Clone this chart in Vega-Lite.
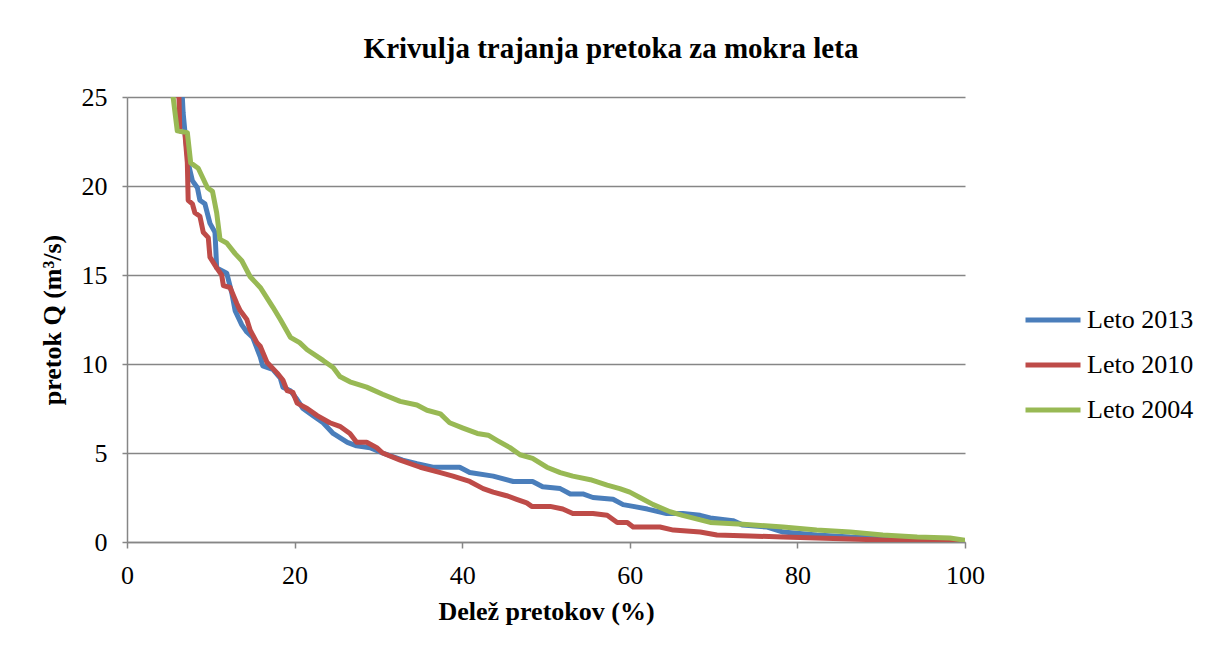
{
  "$schema": "https://vega.github.io/schema/vega-lite/v6.json",
  "autosize": {"type": "none"},
  "padding": {"left": 127, "top": 97, "right": 242, "bottom": 111},
  "width": 838,
  "height": 445,
  "background": "white",
  "config": {
    "view": {"stroke": null},
    "font": "Liberation Serif"
  },
  "title": {
    "text": "Krivulja trajanja pretoka za mokra leta",
    "font": "Liberation Serif",
    "fontSize": 29,
    "fontWeight": "bold",
    "color": "black",
    "anchor": "middle",
    "frame": "group",
    "dx": 65,
    "baseline": "bottom",
    "offset": -9
  },
  "datasets": {
    "curves": [
      {"series": "Leto 2013", "x": 6.6, "q": 25},
      {"series": "Leto 2013", "x": 6.7, "q": 24.1},
      {"series": "Leto 2013", "x": 6.9, "q": 23.1},
      {"series": "Leto 2013", "x": 7.3, "q": 21.3},
      {"series": "Leto 2013", "x": 7.8, "q": 20.3},
      {"series": "Leto 2013", "x": 8.4, "q": 19.9},
      {"series": "Leto 2013", "x": 8.7, "q": 19.2},
      {"series": "Leto 2013", "x": 9.3, "q": 19.0},
      {"series": "Leto 2013", "x": 9.9, "q": 17.9},
      {"series": "Leto 2013", "x": 10.5, "q": 17.4},
      {"series": "Leto 2013", "x": 10.7, "q": 15.4},
      {"series": "Leto 2013", "x": 11.5, "q": 15.2},
      {"series": "Leto 2013", "x": 11.9, "q": 15.1},
      {"series": "Leto 2013", "x": 12.5, "q": 14.0},
      {"series": "Leto 2013", "x": 12.9, "q": 13.0},
      {"series": "Leto 2013", "x": 13.7, "q": 12.2},
      {"series": "Leto 2013", "x": 14.3, "q": 11.8},
      {"series": "Leto 2013", "x": 15.0, "q": 11.5},
      {"series": "Leto 2013", "x": 15.9, "q": 10.4},
      {"series": "Leto 2013", "x": 16.2, "q": 9.9},
      {"series": "Leto 2013", "x": 17.4, "q": 9.7},
      {"series": "Leto 2013", "x": 18.3, "q": 9.2},
      {"series": "Leto 2013", "x": 18.6, "q": 8.7},
      {"series": "Leto 2013", "x": 19.5, "q": 8.5},
      {"series": "Leto 2013", "x": 20.3, "q": 8.0},
      {"series": "Leto 2013", "x": 21.0, "q": 7.5},
      {"series": "Leto 2013", "x": 22.2, "q": 7.1},
      {"series": "Leto 2013", "x": 23.4, "q": 6.7},
      {"series": "Leto 2013", "x": 24.6, "q": 6.1},
      {"series": "Leto 2013", "x": 26.3, "q": 5.6},
      {"series": "Leto 2013", "x": 27.4, "q": 5.4},
      {"series": "Leto 2013", "x": 29.0, "q": 5.3},
      {"series": "Leto 2013", "x": 30.5, "q": 5.0},
      {"series": "Leto 2013", "x": 32.9, "q": 4.6},
      {"series": "Leto 2013", "x": 34.6, "q": 4.4},
      {"series": "Leto 2013", "x": 36.5, "q": 4.2},
      {"series": "Leto 2013", "x": 39.7, "q": 4.2},
      {"series": "Leto 2013", "x": 40.9, "q": 3.9},
      {"series": "Leto 2013", "x": 43.7, "q": 3.7},
      {"series": "Leto 2013", "x": 46.1, "q": 3.4},
      {"series": "Leto 2013", "x": 48.4, "q": 3.4},
      {"series": "Leto 2013", "x": 49.6, "q": 3.1},
      {"series": "Leto 2013", "x": 51.7, "q": 3.0},
      {"series": "Leto 2013", "x": 52.9, "q": 2.7},
      {"series": "Leto 2013", "x": 54.4, "q": 2.7},
      {"series": "Leto 2013", "x": 55.6, "q": 2.5},
      {"series": "Leto 2013", "x": 58.0, "q": 2.4},
      {"series": "Leto 2013", "x": 59.2, "q": 2.1},
      {"series": "Leto 2013", "x": 60.4, "q": 2.0},
      {"series": "Leto 2013", "x": 62.1, "q": 1.85},
      {"series": "Leto 2013", "x": 64.4, "q": 1.6},
      {"series": "Leto 2013", "x": 66.3, "q": 1.6},
      {"series": "Leto 2013", "x": 68.4, "q": 1.5},
      {"series": "Leto 2013", "x": 69.6, "q": 1.35},
      {"series": "Leto 2013", "x": 72.3, "q": 1.2},
      {"series": "Leto 2013", "x": 73.5, "q": 0.95},
      {"series": "Leto 2013", "x": 76.4, "q": 0.84},
      {"series": "Leto 2013", "x": 78.3, "q": 0.56},
      {"series": "Leto 2013", "x": 82.3, "q": 0.39},
      {"series": "Leto 2013", "x": 86.3, "q": 0.28},
      {"series": "Leto 2013", "x": 90.2, "q": 0.22},
      {"series": "Leto 2013", "x": 94.3, "q": 0.17},
      {"series": "Leto 2013", "x": 100, "q": 0.05},

      {"series": "Leto 2010", "x": 6.2, "q": 25},
      {"series": "Leto 2010", "x": 6.3, "q": 23.1},
      {"series": "Leto 2010", "x": 6.9, "q": 23.0},
      {"series": "Leto 2010", "x": 7.2, "q": 21.3},
      {"series": "Leto 2010", "x": 7.3, "q": 19.2},
      {"series": "Leto 2010", "x": 7.8, "q": 19.0},
      {"series": "Leto 2010", "x": 8.1, "q": 18.5},
      {"series": "Leto 2010", "x": 8.7, "q": 18.3},
      {"series": "Leto 2010", "x": 9.1, "q": 17.4},
      {"series": "Leto 2010", "x": 9.7, "q": 17.1},
      {"series": "Leto 2010", "x": 9.9, "q": 16.0},
      {"series": "Leto 2010", "x": 10.7, "q": 15.4},
      {"series": "Leto 2010", "x": 11.3, "q": 15.0},
      {"series": "Leto 2010", "x": 11.5, "q": 14.4},
      {"series": "Leto 2010", "x": 12.3, "q": 14.3},
      {"series": "Leto 2010", "x": 13.1, "q": 13.4},
      {"series": "Leto 2010", "x": 13.5, "q": 13.0},
      {"series": "Leto 2010", "x": 14.3, "q": 12.5},
      {"series": "Leto 2010", "x": 14.7, "q": 11.9},
      {"series": "Leto 2010", "x": 15.5, "q": 11.2},
      {"series": "Leto 2010", "x": 15.9, "q": 11.0},
      {"series": "Leto 2010", "x": 16.7, "q": 10.1},
      {"series": "Leto 2010", "x": 17.9, "q": 9.5},
      {"series": "Leto 2010", "x": 18.6, "q": 9.1},
      {"series": "Leto 2010", "x": 19.1, "q": 8.5},
      {"series": "Leto 2010", "x": 19.8, "q": 8.4},
      {"series": "Leto 2010", "x": 20.3, "q": 7.8},
      {"series": "Leto 2010", "x": 21.5, "q": 7.5},
      {"series": "Leto 2010", "x": 22.7, "q": 7.1},
      {"series": "Leto 2010", "x": 24.2, "q": 6.7},
      {"series": "Leto 2010", "x": 25.4, "q": 6.5},
      {"series": "Leto 2010", "x": 26.6, "q": 6.1},
      {"series": "Leto 2010", "x": 27.4, "q": 5.6},
      {"series": "Leto 2010", "x": 28.6, "q": 5.6},
      {"series": "Leto 2010", "x": 29.8, "q": 5.3},
      {"series": "Leto 2010", "x": 30.5, "q": 5.0},
      {"series": "Leto 2010", "x": 32.6, "q": 4.6},
      {"series": "Leto 2010", "x": 35.0, "q": 4.2},
      {"series": "Leto 2010", "x": 37.4, "q": 3.9},
      {"series": "Leto 2010", "x": 38.9, "q": 3.7},
      {"series": "Leto 2010", "x": 40.9, "q": 3.4},
      {"series": "Leto 2010", "x": 42.5, "q": 3.0},
      {"series": "Leto 2010", "x": 43.7, "q": 2.8},
      {"series": "Leto 2010", "x": 45.3, "q": 2.6},
      {"series": "Leto 2010", "x": 46.5, "q": 2.4},
      {"series": "Leto 2010", "x": 47.7, "q": 2.2},
      {"series": "Leto 2010", "x": 48.3, "q": 2.0},
      {"series": "Leto 2010", "x": 50.5, "q": 2.0},
      {"series": "Leto 2010", "x": 52.0, "q": 1.85},
      {"series": "Leto 2010", "x": 53.2, "q": 1.6},
      {"series": "Leto 2010", "x": 55.6, "q": 1.6},
      {"series": "Leto 2010", "x": 57.3, "q": 1.5},
      {"series": "Leto 2010", "x": 58.5, "q": 1.1},
      {"series": "Leto 2010", "x": 59.7, "q": 1.1},
      {"series": "Leto 2010", "x": 60.4, "q": 0.84},
      {"series": "Leto 2010", "x": 63.6, "q": 0.84},
      {"series": "Leto 2010", "x": 65.2, "q": 0.67},
      {"series": "Leto 2010", "x": 68.4, "q": 0.56},
      {"series": "Leto 2010", "x": 70.4, "q": 0.39},
      {"series": "Leto 2010", "x": 74.3, "q": 0.34},
      {"series": "Leto 2010", "x": 78.3, "q": 0.28},
      {"series": "Leto 2010", "x": 82.3, "q": 0.22},
      {"series": "Leto 2010", "x": 86.3, "q": 0.17},
      {"series": "Leto 2010", "x": 90.2, "q": 0.11},
      {"series": "Leto 2010", "x": 94.3, "q": 0.06},
      {"series": "Leto 2010", "x": 100, "q": 0.0},

      {"series": "Leto 2004", "x": 5.5, "q": 25.0},
      {"series": "Leto 2004", "x": 6.0, "q": 23.1},
      {"series": "Leto 2004", "x": 7.2, "q": 23.0},
      {"series": "Leto 2004", "x": 7.6, "q": 21.3},
      {"series": "Leto 2004", "x": 8.5, "q": 21.0},
      {"series": "Leto 2004", "x": 9.6, "q": 19.9},
      {"series": "Leto 2004", "x": 10.2, "q": 19.7},
      {"series": "Leto 2004", "x": 10.7, "q": 18.5},
      {"series": "Leto 2004", "x": 11.1, "q": 17.0},
      {"series": "Leto 2004", "x": 11.9, "q": 16.8},
      {"series": "Leto 2004", "x": 12.9, "q": 16.2},
      {"series": "Leto 2004", "x": 13.7, "q": 15.8},
      {"series": "Leto 2004", "x": 14.7, "q": 14.9},
      {"series": "Leto 2004", "x": 15.9, "q": 14.3},
      {"series": "Leto 2004", "x": 17.4, "q": 13.2},
      {"series": "Leto 2004", "x": 18.3, "q": 12.5},
      {"series": "Leto 2004", "x": 19.5, "q": 11.5},
      {"series": "Leto 2004", "x": 20.6, "q": 11.2},
      {"series": "Leto 2004", "x": 21.5, "q": 10.8},
      {"series": "Leto 2004", "x": 23.4, "q": 10.2},
      {"series": "Leto 2004", "x": 24.6, "q": 9.8},
      {"series": "Leto 2004", "x": 25.4, "q": 9.3},
      {"series": "Leto 2004", "x": 26.6, "q": 9.0},
      {"series": "Leto 2004", "x": 28.6, "q": 8.7},
      {"series": "Leto 2004", "x": 30.5, "q": 8.3},
      {"series": "Leto 2004", "x": 32.6, "q": 7.9},
      {"series": "Leto 2004", "x": 34.6, "q": 7.7},
      {"series": "Leto 2004", "x": 35.8, "q": 7.4},
      {"series": "Leto 2004", "x": 37.4, "q": 7.2},
      {"series": "Leto 2004", "x": 38.5, "q": 6.7},
      {"series": "Leto 2004", "x": 40.1, "q": 6.4},
      {"series": "Leto 2004", "x": 41.8, "q": 6.1},
      {"series": "Leto 2004", "x": 43.1, "q": 6.0},
      {"series": "Leto 2004", "x": 44.2, "q": 5.7},
      {"series": "Leto 2004", "x": 45.7, "q": 5.3},
      {"series": "Leto 2004", "x": 46.9, "q": 4.9},
      {"series": "Leto 2004", "x": 48.4, "q": 4.7},
      {"series": "Leto 2004", "x": 50.1, "q": 4.2},
      {"series": "Leto 2004", "x": 51.7, "q": 3.9},
      {"series": "Leto 2004", "x": 53.2, "q": 3.7},
      {"series": "Leto 2004", "x": 55.3, "q": 3.5},
      {"series": "Leto 2004", "x": 57.3, "q": 3.2},
      {"series": "Leto 2004", "x": 58.8, "q": 3.0},
      {"series": "Leto 2004", "x": 60.0, "q": 2.8},
      {"series": "Leto 2004", "x": 61.2, "q": 2.5},
      {"series": "Leto 2004", "x": 62.8, "q": 2.1},
      {"series": "Leto 2004", "x": 64.8, "q": 1.7},
      {"series": "Leto 2004", "x": 66.3, "q": 1.5},
      {"series": "Leto 2004", "x": 69.6, "q": 1.1},
      {"series": "Leto 2004", "x": 73.5, "q": 1.0},
      {"series": "Leto 2004", "x": 78.3, "q": 0.84},
      {"series": "Leto 2004", "x": 82.3, "q": 0.67},
      {"series": "Leto 2004", "x": 86.3, "q": 0.56},
      {"series": "Leto 2004", "x": 90.2, "q": 0.39},
      {"series": "Leto 2004", "x": 94.3, "q": 0.28},
      {"series": "Leto 2004", "x": 98.2, "q": 0.22},
      {"series": "Leto 2004", "x": 100, "q": 0.1}
    ]
  },
  "data": {"name": "curves"},
  "encoding": {
    "x": {
      "field": "x",
      "type": "quantitative",
      "scale": {"domain": [0, 100], "nice": false, "zero": true},
      "axis": {
        "title": "Delež pretokov (%)",
        "values": [0, 20, 40, 60, 80, 100],
        "grid": false,
        "domainColor": "#868686",
        "domainWidth": 1.5,
        "tickColor": "#868686",
        "tickWidth": 1.5,
        "tickSize": 6,
        "labelFont": "Liberation Serif",
        "labelFontSize": 26,
        "labelColor": "black",
        "labelPadding": 14,
        "labelFlush": false,
        "titleFont": "Liberation Serif",
        "titleFontSize": 26,
        "titleFontWeight": "bold",
        "titleColor": "black",
        "titlePadding": 10
      }
    },
    "y": {
      "field": "q",
      "type": "quantitative",
      "scale": {"domain": [0, 25], "nice": false},
      "axis": {
        "title": "pretok Q (m³/s)",
        "values": [0, 5, 10, 15, 20, 25],
        "grid": true,
        "gridColor": "#868686",
        "gridWidth": 1.5,
        "domainColor": "#868686",
        "domainWidth": 1.5,
        "tickColor": "#868686",
        "tickWidth": 1.5,
        "tickSize": 5,
        "labelFont": "Liberation Serif",
        "labelFontSize": 26,
        "labelColor": "black",
        "labelPadding": 15,
        "labelFlush": false,
        "titleFont": "Liberation Serif",
        "titleFontSize": 26,
        "titleFontWeight": "bold",
        "titleColor": "black",
        "titlePadding": 16
      }
    },
    "color": {
      "field": "series",
      "type": "nominal",
      "scale": {
        "domain": ["Leto 2013", "Leto 2010", "Leto 2004"],
        "range": ["#4A7EBB", "#BE4B48", "#98B954"]
      },
      "legend": {
        "title": null,
        "orient": "none",
        "legendX": 896,
        "legendY": 210,
        "symbolType": "stroke",
        "symbolSize": 3025,
        "symbolStrokeWidth": 5,
        "clipHeight": 26,
        "rowPadding": 19,
        "labelOffset": 4,
        "labelFont": "Liberation Serif",
        "labelFontSize": 26,
        "labelColor": "black",
        "padding": 0
      }
    }
  },
  "layer": [
    {
      "transform": [{"filter": "datum.series === 'Leto 2013'"}],
      "mark": {"type": "line", "strokeWidth": 5, "clip": true, "strokeJoin": "round", "strokeCap": "round"}
    },
    {
      "transform": [{"filter": "datum.series === 'Leto 2010'"}],
      "mark": {"type": "line", "strokeWidth": 5, "clip": true, "strokeJoin": "round", "strokeCap": "round"}
    },
    {
      "transform": [{"filter": "datum.series === 'Leto 2004'"}],
      "mark": {"type": "line", "strokeWidth": 5, "clip": true, "strokeJoin": "round", "strokeCap": "round"}
    }
  ]
}
